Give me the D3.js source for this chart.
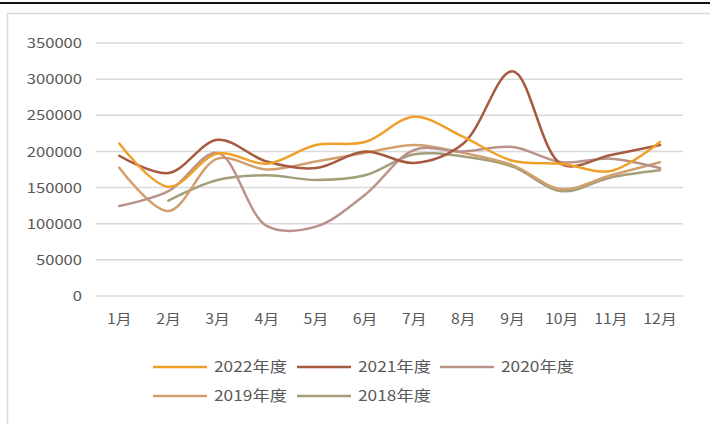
<!DOCTYPE html>
<html><head><meta charset="utf-8">
<script src="https://cdn.jsdelivr.net/npm/d3@7"></script>
<style>
html,body{margin:0;padding:0;background:#fff;}
svg{display:block;}
text{font-family:"Noto Sans CJK SC","Noto Sans",sans-serif;fill:#595959;}
</style></head>
<body>
<script>
const months = ["1月","2月","3月","4月","5月","6月","7月","8月","9月","10月","11月","12月"];
const yTicks = [0,50000,100000,150000,200000,250000,300000,350000];
const seriesNames = ["2022年度","2021年度","2020年度","2019年度","2018年度"];
const seriesColors = ["#EFA02A","#A65A40","#BA928A","#D2A06E","#A39F7A"];
const s2022 = [211000,151000,197000,183000,209000,213000,248000,220000,187000,183000,173000,213000];
const s2021 = [194000,170000,216000,186000,177000,200000,184000,211000,311000,182000,195000,209000];
const s2020 = [124500,145000,198000,97000,96000,140000,202000,200000,206000,185000,190000,177000];
const s2019 = [177500,117500,190000,175000,186000,198000,209000,198000,181000,148000,167000,185000];
const s2018 = [null,132000,160500,167000,160500,167000,196000,193000,179000,145000,164000,174000];
const seriesData = [s2022,s2021,s2020,s2019,s2018];

const W=710,H=424;
const svg=d3.select("body").append("svg").attr("width",W).attr("height",H);

// page decorations: black rule at top, chart frame
svg.append("line").attr("x1",0).attr("x2",W).attr("y1",3).attr("y2",3).attr("stroke","#111").attr("stroke-width",2);
svg.append("rect").attr("x",7.5).attr("y",13.5).attr("width",W+10).attr("height",H+10)
  .attr("fill","none").attr("stroke","#D9D9D9").attr("stroke-width",1.5);

const x=d3.scaleBand().domain(months).range([94.7,684.6]);
const y=d3.scaleLinear().domain([0,350000]).range([296,43]);

// gridlines
svg.append("g").selectAll("line").data(yTicks).join("line")
  .attr("x1",96).attr("x2",683).attr("y1",d=>y(d)).attr("y2",d=>y(d))
  .attr("stroke","#D9D9D9").attr("stroke-width",1.5);

// y axis labels
const yAxis=d3.axisLeft(y).tickValues(yTicks).tickSize(0).tickPadding(0).tickFormat(d=>String(d));
const gy=svg.append("g").attr("transform","translate(82,0)").call(yAxis);
gy.select(".domain").remove();
gy.selectAll("text").attr("font-size",13).attr("fill","#595959")
  .attr("font-family",'"Noto Sans CJK SC","Noto Sans",sans-serif')
  .attr("dy","0.36em")
  .attr("textLength",d=>String(d).length*9.2).attr("lengthAdjust","spacingAndGlyphs");

// x axis labels
const xAxis=d3.axisBottom(x).tickSize(0).tickPadding(0);
const gx=svg.append("g").attr("transform","translate(0,314)").call(xAxis);
gx.select(".domain").remove();
gx.selectAll("text").attr("font-size",14).attr("fill","#595959")
  .attr("font-family",'"Noto Sans CJK SC","Noto Sans",sans-serif')
  .attr("dy","0.71em")
  .each(function(){const l=this.getComputedTextLength();d3.select(this).attr("textLength",l*1.13).attr("lengthAdjust","spacingAndGlyphs");});

// lines
const line=d3.line().defined(d=>d.v!=null).x(d=>x(d.m)+x.bandwidth()/2).y(d=>y(d.v)).curve(d3.curveCatmullRom.alpha(0.5));
const order=[4,3,2,1,0];
order.forEach(i=>{
  const pts=months.map((m,j)=>({m:m,v:seriesData[i][j]})).filter(d=>d.v!=null);
  svg.append("path").datum(pts).attr("d",line).attr("fill","none")
    .attr("stroke",seriesColors[i]).attr("stroke-width",2.5).attr("stroke-linejoin","round").attr("stroke-linecap","round");
});

// legend
const legPos=[[153,367],[297,367],[440,367],[153,396],[297,396]];
seriesNames.forEach((n,i)=>{
  const [lx,ly]=legPos[i];
  const g=svg.append("g").attr("transform",`translate(${lx},${ly})`);
  g.append("line").attr("x1",0).attr("x2",54).attr("y1",0).attr("y2",0).attr("stroke",seriesColors[i]).attr("stroke-width",2.5);
  g.append("text").attr("x",61).attr("y",0).attr("dy","0.36em").attr("font-size",15)
    .attr("textLength",73).attr("lengthAdjust","spacingAndGlyphs").text(n);
});
</script>
</body></html>
